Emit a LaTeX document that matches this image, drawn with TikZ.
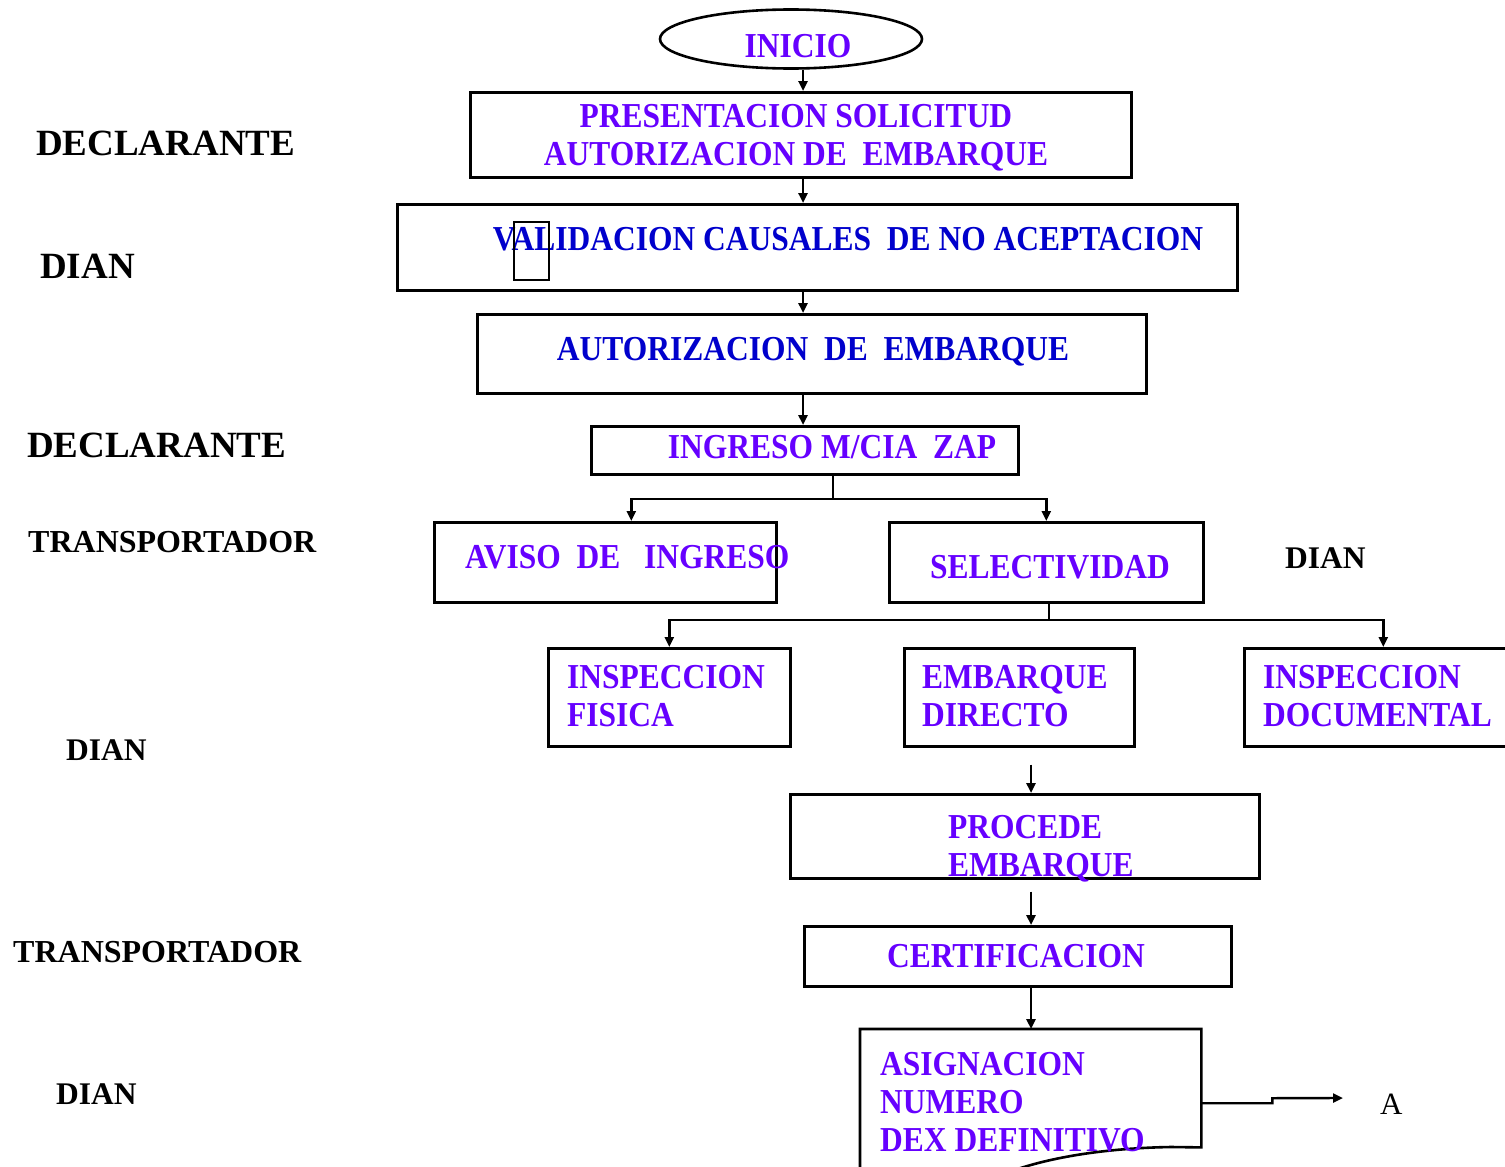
\documentclass[tikz,border=0pt]{standalone}
\usepackage{fontspec}
\setmainfont{Liberation Serif}
\newfontfamily\narrowserif[FakeStretch=0.9]{Liberation Serif}
\usetikzlibrary{shapes.geometric,arrows.meta}
\definecolor{flowpurple}{RGB}{102,0,255}
\definecolor{flowblue}{RGB}{0,0,204}

\begin{document}
\begin{tikzpicture}[x=1pt,y=-1pt,
    box/.style={draw, line width=2.6pt, inner sep=0pt, anchor=north west},
    txt/.style={inner sep=0pt, anchor=base, text=flowpurple,
      font=\narrowserif\bfseries\fontsize{35}{38}\selectfont},
    txtl/.style={txt, anchor=north west, align=left},
    actor/.style={inner sep=0pt, anchor=base west, font=\bfseries\fontsize{37}{40}\selectfont},
    actorsm/.style={actor, font=\bfseries\fontsize{31.5}{34}\selectfont},
    flow/.style={line width=2.4pt, -{Triangle[length=10pt,width=9pt]}},
    link/.style={line width=2.4pt}]
  \useasboundingbox (0,0) rectangle (1505,1167);
  \clip (0,0) rectangle (1505,1167);

  \coordinate (spine) at (803,0);
  \coordinate (spine2) at (1031,0);

  % who does what
  \node[actor] (dec1) at (36,155) {DECLARANTE};
  \node[actor] (dian1) at (40,278) {DIAN};
  \node[actor] (dec2) at (27,457) {DECLARANTE};
  \node[actorsm, font=\bfseries\fontsize{32}{34}\selectfont] (tra1) at (28,552) {TRANSPORTADOR};
  \node[actorsm] (dian2) at (1285,568) {DIAN};
  \node[actorsm] (dian3) at (66,760) {DIAN};
  \node[actorsm, font=\bfseries\fontsize{32}{34}\selectfont] (tra2) at (13,962) {TRANSPORTADOR};
  \node[actorsm] (dian4) at (56,1104) {DIAN};

  % boxes
  \node[draw, ellipse, line width=2.6pt, inner sep=0pt, minimum width=262pt, minimum height=59pt] (ini) at (791,39) {};
  \node[txt] (tini) at (798,57) {INICIO};

  \node[box, minimum width=661pt, minimum height=85pt] (b1) at (469,91) {};
  \node[txt] (t1a) at (796,127) {PRESENTACION SOLICITUD};
  \node[txt] (t1b) at (796,165) {AUTORIZACION DE\ \ EMBARQUE};

  \node[box, minimum width=840pt, minimum height=86pt] (b2) at (396,203) {};
  \node[txt, text=flowblue] (t2) at (848,250) {VALIDACION CAUSALES\ \ DE NO ACEPTACION};
  \node[box, line width=2.4pt, minimum width=35pt, minimum height=58pt] (vbox) at (513,221) {};

  \node[box, minimum width=669pt, minimum height=79pt] (b3) at (476,313) {};
  \node[txt, text=flowblue] (t3) at (813,360) {AUTORIZACION\ \ DE\ \ EMBARQUE};

  \node[box, minimum width=427pt, minimum height=48pt] (b4) at (590,425) {};
  \node[txt] (t4) at (832,458) {INGRESO M/CIA\ \ ZAP};

  \node[box, minimum width=342pt, minimum height=80pt] (b5) at (433,521) {};
  \node[txt, anchor=base west] (t5) at (465,568) {AVISO\ \ DE\ \ \ INGRESO};

  \node[box, minimum width=314pt, minimum height=80pt] (b6) at (888,521) {};
  \node[txt] (t6) at (1050,578) {SELECTIVIDAD};

  \node[box, minimum width=242pt, minimum height=98pt] (b7) at (547,647) {};
  \node[txtl] (t7) at (567,665) {INSPECCION\\FISICA};

  \node[box, minimum width=230pt, minimum height=98pt] (b8) at (903,647) {};
  \node[txtl] (t8) at (922,665) {EMBARQUE\\DIRECTO};

  \node[box, minimum width=278pt, minimum height=98pt] (b9) at (1243,647) {};
  \node[txtl] (t9) at (1263,665) {INSPECCION\\DOCUMENTAL};

  \node[box, minimum width=469pt, minimum height=84pt] (b10) at (789,793) {};
  \node[txtl] (t10) at (948,815) {PROCEDE\\EMBARQUE};

  \node[box, minimum width=427pt, minimum height=60pt] (b11) at (803,925) {};
  \node[txt] (t11) at (1016,967) {CERTIFICACION};

  \node[inner sep=0pt, anchor=north west, minimum width=341pt, minimum height=118pt] (b12) at (860,1029) {};
  \draw[line width=2.6pt] (860,1185) -- (b12.north west) -- (b12.north east) -- (b12.south east)
    -- (1171,1147) .. controls (1110,1148) and (1060,1156) .. (1024,1167) .. controls (1000,1174) .. (975,1182);
  \node[txtl] (t12) at (880,1052) {ASIGNACION\\NUMERO\\DEX DEFINITIVO};

  \node[inner sep=0pt, anchor=base west, font=\fontsize{31}{34}\selectfont] (A) at (1380,1114) {A};
  \coordinate (aIn) at (1343,1098);

  % connectors
  \draw[flow] (ini.south -| spine) -- (b1.north -| spine);
  \draw[flow] (b1.south -| spine) -- (b2.north -| spine);
  \draw[flow] (b2.south -| spine) -- (b3.north -| spine);
  \draw[flow] (b3.south -| spine) -- (b4.north -| spine);

  \coordinate (fork1) at (833,499);
  \draw[link] (b4.south -| fork1) -- (fork1);
  \draw[flow] (fork1) -| ([xshift=26pt]b5.north);
  \draw[flow] (fork1) -| (b6.north);

  \coordinate (fork2) at (1049,620);
  \draw[link] (b6.south -| fork2) -- (fork2);
  \draw[flow] (fork2) -| (b7.north);
  \draw[flow] (fork2) -| (b9.north);

  \draw[flow] ([yshift=-17pt]b8.south -| spine2) -- (b10.north -| spine2);
  \draw[flow] ([yshift=-12pt]b10.south -| spine2) -- (b11.north -| spine2);
  \draw[flow] (b11.south -| spine2) -- (b12.north -| spine2);
  \draw[flow] ([yshift=-15pt]b12.east) -- ++(71,0) -- ++(0,-5) -- (aIn);
\end{tikzpicture}
\end{document}
